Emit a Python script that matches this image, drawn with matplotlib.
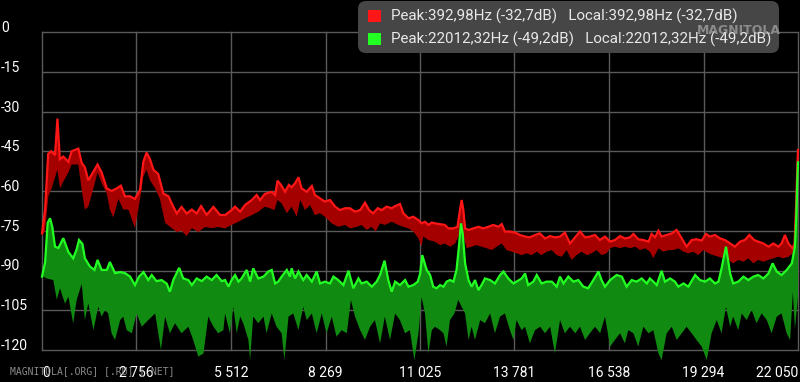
import matplotlib
matplotlib.use('Agg')
import matplotlib.pyplot as plt
from matplotlib.patches import FancyBboxPatch, Rectangle
from matplotlib.transforms import IdentityTransform, blended_transform_factory

# spectrum readings (Hz, dB) for the two channels: top line + lower edge of the band
red_top_hz = [0, 90, 180, 270, 380, 450, 520, 620, 770, 865, 1060, 1160, 1250, 1350, 1500, 1620,
              1740, 1890, 2030, 2180, 2300, 2420, 2570, 2710, 2860, 2955, 3050, 3150, 3250, 3390,
              3540, 3690, 3780, 3930, 4070, 4220, 4370, 4510, 4640, 4800, 5000, 5190, 5340, 5530,
              5630, 5780, 5920, 6120, 6260, 6360, 6500, 6700, 6800, 6870, 6970, 7090, 7200, 7280,
              7380, 7480, 7570, 7720, 7870, 7960, 8110, 8250, 8400, 8550, 8690, 8840, 8980, 9130,
              9280, 9420, 9540, 9660, 9790, 9910, 10050, 10200, 10300, 10440, 10540, 10690, 10830,
              10980, 11070, 11170, 11270, 11370, 11460, 11610, 11750, 11850, 12000, 12120, 12190,
              12240, 12290, 12340, 12440, 12580, 12730, 12870, 13020, 13160, 13310, 13410, 13500,
              13650, 13800, 13940, 14090, 14230, 14380, 14520, 14670, 14820, 14960, 15110, 15250,
              15400, 15550, 15690, 15840, 15980, 16130, 16270, 16420, 16570, 16710, 16860, 17000,
              17150, 17250, 17390, 17540, 17690, 17780, 17880, 17980, 18070, 18220, 18370, 18510,
              18660, 18800, 18950, 19090, 19240, 19370, 19480, 19630, 19780, 19920, 20070, 20210,
              20360, 20500, 20630, 20770, 20890, 21040, 21190, 21330, 21480, 21570, 21670, 21770,
              21890, 21950, 22000, 22030, 22050]
red_top_db = [-76, -67, -46, -45, -46.5, -32.7, -48, -47, -49, -45, -44, -49.5, -51, -56, -52.7, -50,
              -53, -59, -60, -59, -58, -62, -62, -63, -59.6, -49, -45.5, -48, -52, -53.6,
              -61, -62, -64.6, -68.5, -66, -68.5, -67, -68.5, -65.7, -69, -66, -69, -69.1, -67.2,
              -65.9, -67.8, -65.3, -63.4, -61.5, -63.4, -61.1, -60.3, -61.5, -56.1, -57.7, -60.3, -57.7, -58.6,
              -57.1, -54.8, -59, -60.3, -58.1, -61.5, -62.8, -64, -63.4, -65.9, -67.2, -66.5, -66.5, -67.8,
              -67.2, -64.4, -67.2, -68.4, -66.5, -67.2, -65.9, -66.5, -65.7, -64.9, -68.4, -70.3, -69.7,
              -71.0, -72.2, -71.6, -72.8, -71.9, -72.2, -72.5, -72.8, -74.1, -74.1, -73.5, -67.2,
              -63.4, -67.2, -74.1, -74.7, -74.1, -73.5, -74.1, -73.5, -72.8, -73.5, -72.5, -75.3,
              -75.3, -75.7, -76.6, -77.2, -77.5, -76.6, -76.0, -77.9, -77.0, -77.5, -77.2, -75.7,
              -79.8, -77.5, -75.3, -77.5, -77.2, -76.6, -78.5, -77.2, -79.1, -78.5, -77.0, -77.9,
              -77.5, -76.2, -78.2, -78.5, -79.1, -76.2, -77.5, -75.0, -77.2, -76.6, -76.0, -74.7,
              -77.9, -81.0, -78.5, -78.2, -78.7, -76.2, -77.2, -76.6, -77.9, -78.5, -79.8, -81.0,
              -79.1, -78.5, -76.6, -78.5, -79.1, -79.8, -81.0, -79.8, -81.0, -79.8, -76.6, -79.8,
              -81.6, -79.8, -63.4, -50.8, -44.5]

red_low_hz = [0, 90, 185, 280, 450, 525, 620, 770, 865, 1060, 1160, 1250, 1350, 1500, 1620, 1740,
              1890, 1980, 2080, 2230, 2370, 2520, 2710, 2860, 2955, 3050, 3150, 3300, 3440, 3590,
              3780, 3930, 4070, 4220, 4370, 4560, 4750, 4950, 5140, 5340, 5530, 5730, 5920, 6120,
              6310, 6500, 6650, 6780, 6870, 6990, 7140, 7280, 7430, 7530, 7670, 7820, 7960, 8110,
              8250, 8450, 8640, 8840, 8980, 9180, 9320, 9470, 9620, 9730, 9860, 10000, 10200, 10390,
              10540, 10690, 10830, 10980, 11070, 11120, 11270, 11460, 11610, 11750, 11900, 12050,
              12190, 12290, 12390, 12530, 12680, 12820, 12970, 13120, 13260, 13410, 13550, 13700,
              13840, 13990, 14140, 14280, 14430, 14570, 14720, 14870, 15010, 15160, 15300, 15450,
              15590, 15740, 15890, 16030, 16180, 16320, 16470, 16570, 16710, 16860, 17000, 17150,
              17300, 17440, 17590, 17730, 17830, 17980, 18120, 18270, 18410, 18560, 18710, 18850,
              19000, 19140, 19290, 19440, 19580, 19730, 19870, 20020, 20160, 20310, 20460, 20600,
              20750, 20890, 21040, 21190, 21330, 21480, 21620, 21770, 21910, 22000, 22050]
red_low_db = [-77, -75, -62, -59, -52, -59, -56.5, -53, -50, -50, -59.6, -67, -66, -59, -53, -57,
              -61, -67, -70, -63, -67, -67, -74, -63, -54.6, -52, -56, -59, -63, -72,
              -74, -75.5, -75, -77, -74, -75.5, -73.6, -74, -73.6, -74.1, -72.8, -71.6, -70.3, -69.1,
              -67.8, -65.9, -66.5, -67.2, -63.4, -64.7, -68.4, -65.9, -69.7, -63.4, -67.2, -65.3, -69.1, -68.4,
              -69.7, -72.2, -73.5, -72.8, -74.1, -73.5, -72.8, -74.7, -73.5, -75.3, -72.2, -72.8, -71.6, -72.8,
              -73.5, -74.1, -75.3, -77.9, -81.0, -77.2, -78.5, -79.1, -80.4, -79.8, -81.0, -79.8,
              -76.0, -77.2, -81.6, -81.0, -80.4, -81.0, -81.6, -82.3, -81.0, -79.8, -82.3, -82.9,
              -83.5, -84.2, -83.5, -84.2, -82.9, -84.2, -82.9, -82.3, -84.2, -84.8, -82.3, -86.0,
              -84.2, -82.9, -84.2, -83.5, -82.3, -84.2, -83.5, -81.6, -81.0, -81.6, -81.0, -81.6,
              -81.0, -82.3, -81.6, -82.9, -85.4, -81.6, -82.9, -82.3, -82.3, -81.6, -82.9, -83.5,
              -82.9, -84.2, -82.3, -83.5, -84.2, -84.8, -85.4, -86.0, -87.3, -86.0, -86.7, -85.4,
              -87.3, -86.0, -86.7, -86.0, -85.4, -84.8, -85.4, -84.8, -83.5, -78.5, -60]

green_top_hz = [0, 90, 165, 235, 300, 380, 480, 620, 770, 910, 1010, 1080, 1180, 1250, 1400, 1530,
                1620, 1740, 1890, 1980, 2130, 2280, 2420, 2570, 2710, 2830, 2960, 3100, 3200, 3340,
                3490, 3640, 3730, 3830, 4000, 4120, 4270, 4370, 4510, 4660, 4800, 4950, 5090, 5240,
                5340, 5440, 5530, 5630, 5730, 5820, 5970, 6070, 6160, 6310, 6460, 6600, 6700, 6800,
                6890, 6990, 7140, 7230, 7280, 7380, 7480, 7620, 7720, 7870, 8010, 8110, 8250, 8400,
                8500, 8640, 8790, 8940, 9080, 9230, 9320, 9470, 9620, 9760, 9860, 9990, 10100, 10200,
                10300, 10440, 10590, 10690, 10830, 10960, 11030, 11090, 11220, 11320, 11410, 11510,
                11610, 11710, 11800, 11900, 12000, 12090, 12160, 12220, 12270, 12340, 12440, 12530,
                12630, 12730, 12820, 12920, 13070, 13210, 13360, 13460, 13600, 13750, 13840, 13990,
                14090, 14180, 14330, 14430, 14570, 14720, 14870, 15010, 15110, 15210, 15350, 15500,
                15640, 15790, 15930, 16080, 16230, 16320, 16420, 16570, 16760, 16910, 17050, 17200,
                17340, 17490, 17640, 17730, 17830, 17930, 18070, 18170, 18320, 18460, 18560, 18710,
                18850, 19050, 19190, 19340, 19480, 19630, 19730, 19820, 19950, 20070, 20160, 20310,
                20460, 20600, 20750, 20890, 21040, 21190, 21310, 21430, 21570, 21720, 21870, 21960,
                22000, 22025, 22050]
green_top_db = [-92.3, -87, -72, -70.3, -73.5, -81, -81.5, -77.8, -83, -85.4, -82, -78.5, -80, -85.4, -88.5, -89.8,
                -86, -89.8, -89.8, -86.8, -91, -90.6, -91, -92.3, -95.5, -92.3, -90.6, -93.6, -91.7, -94,
                -93.6, -95, -98, -93.6, -89, -93, -93.6, -95.5, -93, -94, -92.3, -93.6, -91.7, -94,
                -93.6, -96.1, -93.6, -91.7, -94.2, -93.0, -89.8, -94.2, -89.2, -93.0, -92.3, -90.4, -89.8, -94.9,
                -94.2, -92.3, -89.8, -92.3, -89.2, -93.0, -90.4, -93.6, -91.7, -94.2, -90.4, -94.9, -94.2, -94.9,
                -92.3, -93.6, -95.5, -90.1, -96.7, -93.0, -94.9, -94.2, -96.1, -94.2, -91.7, -86.3, -93.6, -98.0,
                -94.2, -95.5, -93.6, -96.1, -95.5, -94.2, -91.1, -84.2, -89.8, -91.7, -96.1, -96.7,
                -95.5, -96.1, -94.2, -93.6, -94.2, -89.8, -81.0, -72.2, -76.0, -87.3, -93.6, -96.1,
                -93.6, -97.4, -95.5, -93.0, -93.6, -94.9, -91.7, -90.4, -93.0, -94.9, -94.2, -93.0,
                -91.1, -95.5, -94.2, -91.7, -94.9, -94.2, -94.2, -96.1, -92.3, -94.9, -92.3, -94.2,
                -93.6, -96.1, -96.7, -93.6, -90.4, -93.6, -96.1, -93.6, -91.7, -92.3, -96.1, -93.6,
                -94.2, -93.0, -94.9, -93.0, -94.2, -95.5, -90.1, -94.2, -93.0, -94.2, -96.1, -94.9,
                -96.1, -91.7, -93.6, -94.2, -93.0, -94.9, -94.2, -89.2, -81.0, -91.1, -94.9, -94.2,
                -92.3, -93.6, -92.3, -91.7, -93.0, -91.1, -87.3, -90.4, -91.7, -89.8, -87.3, -81.0,
                -70, -58, -49.2]

green_low_hz = [0, 135, 330, 430, 525, 670, 770, 910, 1010, 1160, 1250, 1350, 1500, 1640, 1740, 1840,
                1930, 2030, 2130, 2280, 2370, 2470, 2620, 2760, 2910, 3100, 3300, 3470, 3590, 3730,
                3880, 4070, 4270, 4410, 4560, 4710, 4850, 5000, 5140, 5290, 5340, 5480, 5580, 5680,
                5780, 5870, 6020, 6070, 6160, 6310, 6460, 6550, 6700, 6840, 6990, 7070, 7190, 7330,
                7480, 7620, 7720, 7870, 8010, 8160, 8300, 8450, 8590, 8740, 8890, 9010, 9130, 9280,
                9420, 9570, 9710, 9860, 10000, 10150, 10300, 10440, 10590, 10730, 10860, 10980, 11070,
                11170, 11270, 11370, 11460, 11610, 11710, 11800, 11900, 12030, 12140, 12240, 12340,
                12440, 12530, 12630, 12780, 12920, 13070, 13210, 13360, 13500, 13650, 13750, 13840,
                13990, 14090, 14230, 14380, 14530, 14670, 14820, 14960, 15110, 15250, 15400, 15550,
                15690, 15840, 15980, 16130, 16280, 16420, 16570, 16710, 16860, 17000, 17100, 17250,
                17390, 17540, 17690, 17830, 17980, 18070, 18220, 18370, 18510, 18660, 18800, 18950,
                19090, 19240, 19390, 19530, 19680, 19820, 19950, 20070, 20160, 20310, 20410, 20550,
                20700, 20840, 20990, 21140, 21280, 21430, 21570, 21720, 21820, 21900, 21960, 22050]
green_low_db = [-92, -93, -93.6, -101, -96.7, -102.5, -99.9, -110, -101.1, -95, -108.7, -102.4, -112.5, -103.7, -107.4, -104.9,
                -106.2, -113.7, -116.2, -108.7, -107.4, -112.5, -113.7, -106.2, -111.2, -108.7, -106.2, -120, -107.4, -113.7,
                -109.9, -113.7, -111.2, -116.2, -122.5, -121.3, -107.4, -111.2, -113.7, -112.5, -106.2, -113.7, -103.7, -113.7,
                -107.4, -109.9, -116.2, -123.8, -107.4, -109.9, -107.4, -113.7, -106.2, -111.2, -113.7, -123.8, -107.4, -106.2,
                -112.5, -103.7, -108.7, -106.2, -113.7, -106.2, -113.7, -107.4, -115.0, -112.5, -113.7, -101.1, -107.4, -112.5,
                -116.2, -111.2, -108.7, -117.5, -107.4, -116.2, -106.2, -108.7, -113.7, -112.5, -123.8, -113.7, -99.9,
                -106.2, -121.3, -112.5, -111.2, -112.5, -113.7, -118.7, -108.7, -106.2, -101.1, -103.7, -106.2,
                -116.2, -111.2, -116.2, -108.7, -109.9, -106.2, -113.7, -107.4, -106.2, -112.5, -116.2, -108.7,
                -112.5, -111.2, -117.5, -112.5, -111.2, -113.7, -111.2, -121.3, -108.7, -113.7, -111.2, -113.7,
                -111.2, -116.2, -113.7, -111.2, -113.7, -107.4, -118.7, -116.2, -113.7, -117.5, -112.5, -113.7,
                -118.7, -111.2, -113.7, -112.5, -121.3, -123.8, -113.7, -111.2, -116.2, -113.7, -111.2, -113.7,
                -116.2, -118.7, -123.8, -113.7, -108.7, -113.7, -103.7, -111.2, -107.4, -112.5, -106.2, -108.7,
                -104.9, -109.9, -106.2, -108.7, -113.7, -107.4, -106.2, -113.7, -116.2, -98, -112, -100]

x_ticks = [0, 2756, 5512, 8269, 11025, 13781, 16538, 19294, 22050]
x_tick_labels = ['0', '2 756', '5 512', '8 269', '11 025', '13 781', '16 538', '19 294', '22 050']
y_ticks = [0, -15, -30, -45, -60, -75, -90, -105, -120]

legend_rows = ['Peak:392,98Hz (-32,7dB)   Local:392,98Hz (-32,7dB)',
               'Peak:22012,32Hz (-49,2dB)   Local:22012,32Hz (-49,2dB)']

RED_LINE, RED_FILL = '#ff1616', '#a40000'
GREEN_LINE, GREEN_FILL = '#22ff22', '#108a10'

W, H = 800, 382
fig = plt.figure(figsize=(W / 100, H / 100), dpi=100, facecolor='black')
ax = fig.add_axes([42 / W, 1 - 350 / H, 756 / W, 318 / H], facecolor='black')
ax.set_xlim(0, 22050)
ax.set_ylim(-120, 0)
for s in ax.spines.values():
    s.set_visible(False)
ax.set_xticks(x_ticks)
ax.set_yticks(y_ticks)
ax.tick_params(length=0, labelbottom=False, labelleft=False)
ax.grid(True, color='#5a5a5a', lw=1)
ax.set_axisbelow(True)
for gl in ax.get_xgridlines() + ax.get_ygridlines():
    gl.set_clip_on(False)


def band(top_x, top_y, low_x, low_y, fill, line):
    xs = list(top_x) + list(low_x)[::-1]
    ys = list(top_y) + list(low_y)[::-1]
    ax.fill(xs, ys, color=fill, lw=0, clip_on=False, zorder=2)
    ax.plot(top_x, top_y, color=line, lw=1.6, clip_on=False, zorder=3, solid_joinstyle='miter')


band(red_top_hz, red_top_db, red_low_hz, red_low_db, RED_FILL, RED_LINE)
band(green_top_hz, green_top_db, green_low_hz, green_low_db, GREEN_FILL, GREEN_LINE)

# watermark under the x labels
fig.text(10 / W, 1 - 371 / H, 'MAGNITOLA[.ORG] [.RU] [.NET]', family='DejaVu Sans Mono',
         size=7, color='#8a8a8a', va='center', zorder=1)

ylab_tr = blended_transform_factory(fig.transFigure, ax.transData)
for v in y_ticks:
    ax.text(1 / W, v, str(v), transform=ylab_tr, family='Roboto', size=10, color='white',
            ha='left', va='baseline', zorder=5)

for i, (v, lab) in enumerate(zip(x_ticks, x_tick_labels)):
    ha = 'left' if i == 0 else ('right' if i == len(x_ticks) - 1 else 'center')
    ax.text(v, -27 / 318, lab, transform=ax.get_xaxis_transform(), family='Roboto', size=10,
            color='white', ha=ha, va='baseline', zorder=5)

# legend box (pixel coords)
px = IdentityTransform()
fig.add_artist(FancyBboxPatch((358, H - 53), 421, 52, boxstyle='round,pad=0,rounding_size=8',
                              transform=px, facecolor='#464646', edgecolor='none', zorder=6))
for row, (txt, col) in enumerate(zip(legend_rows, [RED_LINE, GREEN_LINE])):
    yc = H - (16 + 23 * row)
    fig.add_artist(Rectangle((368, yc - 6), 13, 12, transform=px, facecolor=col,
                             edgecolor='none', zorder=7))
    fig.text(391, yc, txt, transform=px, family='Roboto', size=10.9, color='#e8e8e8',
             va='center', ha='left', zorder=7)

fig.text(739, H - 31, 'MAGNITOLA', transform=px, family='DejaVu Sans',
         weight='bold', size=9, color='#c4c4c4', alpha=0.55, ha='center', va='center', zorder=8)

fig.savefig('out.png', dpi=100, facecolor='black')
